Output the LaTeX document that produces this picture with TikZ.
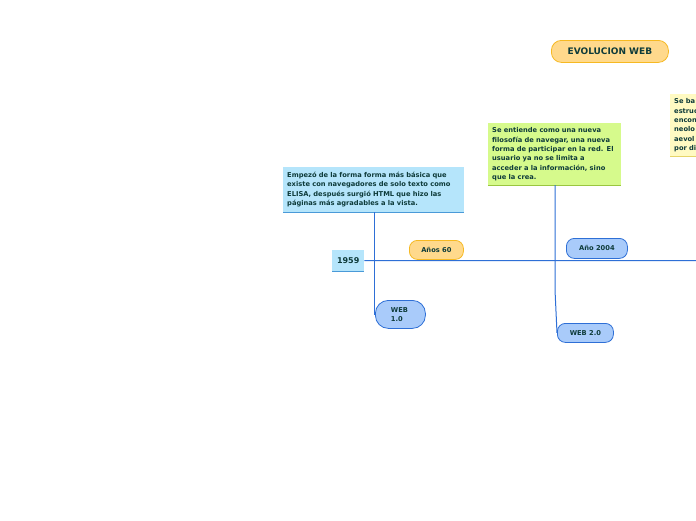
\documentclass[tikz,border=0pt]{standalone}
\usepackage{fontspec}
\usetikzlibrary{calc}
\newfontfamily\dvb{DejaVu Sans Bold}
\definecolor{txt}{HTML}{0E3B3A}
\definecolor{tline}{HTML}{2E6FD6}
\definecolor{orfill}{HTML}{FFD98C}
\definecolor{ordraw}{HTML}{F6B922}
\definecolor{bluefill}{HTML}{A9CBFA}
\definecolor{bluedraw}{HTML}{2E6FD6}
\definecolor{lbfill}{HTML}{B5E5FB}
\definecolor{lbline}{HTML}{4A9AD8}
\definecolor{grfill}{HTML}{D6FA8C}
\definecolor{grline}{HTML}{9AC640}
\definecolor{yefill}{HTML}{FFFAC2}
\definecolor{yeline}{HTML}{E6D56A}
\tikzset{
  small/.style={font=\dvb\fontsize{6.7}{9.4}\selectfont, text=txt},
  txtbox/.style={small, rectangle, inner xsep=4pt, inner ysep=4.5pt, align=left, anchor=north west},
  pill/.style={small, rectangle, rounded corners=8pt, line width=0.8pt, anchor=north west, inner sep=0pt},
  conn/.style={draw=tline, line width=1pt},
}
\begin{document}
\begin{tikzpicture}[x=1pt,y=-1pt]
\clip (0,0) rectangle (696,520);
\fill[white] (0,0) rectangle (696,520);
% title
\node[pill, fill=orfill, draw=ordraw, rounded corners=10pt, minimum width=117pt, minimum height=22pt, font=\dvb\fontsize{9}{10}\selectfont] (title) at (551,40) {EVOLUCION WEB};
% right yellow box
\node[txtbox, fill=yefill, text width=72pt, minimum height=61pt] (yel) at (670,94) {Se ba\\estruc\\encon\\neolo\\aevol\\por di};
\draw[yeline, line width=1pt] (yel.south west) -- (yel.south east);
% green box
\node[txtbox, fill=grfill, text width=125pt, minimum height=62pt] (green) at (488,123) {Se entiende como una nueva\\filosofía de navegar, una nueva\\forma de participar en la red. El\\usuario ya no se limita a\\acceder a la información, sino\\que la crea.};
\draw[grline, line width=1pt] (green.south west) -- (green.south east);
% blue box
\node[txtbox, fill=lbfill, text width=173pt, minimum height=45pt] (blue) at (283,167) {Empezó de la forma forma más básica que\\existe con navegadores de solo texto como\\ELISA, después surgió HTML que hizo las\\páginas más agradables a la vista.};
\draw[lbline, line width=1pt] (blue.south west) -- (blue.south east);
% 1959
\node[rectangle, fill=lbfill, anchor=north west, minimum width=32pt, minimum height=21pt, inner sep=0pt, font=\dvb\fontsize{8}{9}\selectfont, text=txt] (y59) at (332,250) {1959};
\draw[lbline, line width=1pt] (y59.south west) -- (y59.south east);
% labels
\node[pill, fill=orfill, draw=ordraw, minimum width=54pt, minimum height=19pt] (a60) at (409,240) {Años 60};
\node[pill, fill=bluefill, draw=bluedraw, minimum width=61pt, minimum height=20pt] (a04) at (566,238) {Año 2004};
\node[pill, fill=bluefill, draw=bluedraw, rounded corners=13pt, minimum width=50pt, minimum height=28pt, align=left] (w1) at (375,300) {WEB\\1.0\hspace*{7pt}};
\node[pill, fill=bluefill, draw=bluedraw, minimum width=56pt, minimum height=19pt] (w2) at (557,323) {WEB 2.0};
% connectors
\coordinate (c1) at (374,212);
\coordinate (c2) at (555,185);
\coordinate (tend) at (700,260.5);
\draw[conn] (y59.east) -- (tend);
\draw[conn] (c1) -- (c1 |- w1.west) -- (w1.west);
\draw[conn] (c2) -- ($(c2)+(0,105)$) -- (w2.west);
\end{tikzpicture}
\end{document}
